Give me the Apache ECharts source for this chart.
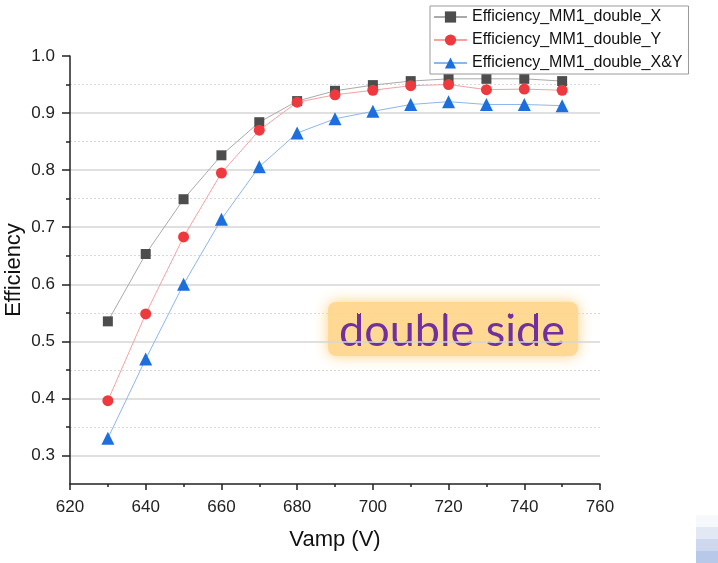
<!DOCTYPE html>
<html>
<head>
<meta charset="utf-8">
<script src="https://cdn.jsdelivr.net/npm/echarts@6/dist/echarts.min.js"></script>
<style>
  html, body { margin: 0; padding: 0; background: #ffffff; }
  #chart { width: 718px; height: 563px; }
</style>
</head>
<body>
<div id="chart"></div>
<script>
// Amplification voltage (V)
const vamp = [630, 640, 650, 660, 670, 680, 690, 700, 710, 720, 730, 740, 750];

// Detection efficiency per readout configuration
const effX  = [0.535, 0.653, 0.749, 0.826, 0.884, 0.921, 0.939, 0.949, 0.956, 0.960, 0.960, 0.960, 0.956];
const effY  = [0.396, 0.548, 0.683, 0.795, 0.870, 0.919, 0.932, 0.940, 0.948, 0.950, 0.941, 0.942, 0.940];
const effXY = [0.330, 0.469, 0.600, 0.714, 0.806, 0.865, 0.890, 0.903, 0.915, 0.920, 0.915, 0.915, 0.913];

const seriesNames = ['Efficiency_MM1_double_X', 'Efficiency_MM1_double_Y', 'Efficiency_MM1_double_X&Y'];

// Axis ticks
const yMajorTicks = [0.3, 0.4, 0.5, 0.6, 0.7, 0.8, 0.9, 1.0];
const yMinorTicks = [0.35, 0.45, 0.55, 0.65, 0.75, 0.85, 0.95];

const annotation = 'double side';

const pair = (xs, ys) => xs.map((x, i) => [x, ys[i]]);
const FONT = '"Liberation Sans", Arial, sans-serif';

const chart = echarts.init(document.getElementById('chart'), null, { renderer: 'canvas' });

const majorGridColors = yMajorTicks.map(v => (v >= 1.0 ? 'rgba(0,0,0,0)' : '#d6d6d6'));
const minorGridColors = yMinorTicks.map(() => '#d9d9d9');

chart.setOption({
  backgroundColor: '#ffffff',
  animation: false,
  grid: { left: 70, right: 118, top: 56, bottom: 79, outerBoundsMode: 'none', containLabel: false },
  legend: {
    orient: 'vertical',
    left: 430,
    top: 6,
    padding: [3, 6, 3, 3],
    itemGap: 7,
    itemWidth: 33,
    itemHeight: 14,
    borderColor: '#999999',
    borderWidth: 1,
    backgroundColor: '#ffffff',
    textStyle: { fontFamily: FONT, fontSize: 16, color: '#111111' },
    data: seriesNames
  },
  xAxis: {
    type: 'value',
    min: 620,
    max: 760,
    interval: 20,
    name: 'Vamp (V)',
    nameLocation: 'middle',
    nameGap: 45,
    nameTextStyle: { fontFamily: FONT, fontSize: 22, color: '#111111' },
    axisLine: { show: true, lineStyle: { color: '#222222', width: 1.5 } },
    axisTick: { show: true, inside: false, length: 6, lineStyle: { color: '#222222', width: 1.5 } },
    minorTick: { show: true, splitNumber: 2, length: 3, lineStyle: { color: '#222222', width: 1.5 } },
    axisLabel: { fontFamily: FONT, fontSize: 17, color: '#222222', margin: 15 },
    splitLine: { show: false }
  },
  yAxis: [
    {
      type: 'value',
      min: 0.25,
      max: 1.0,
      name: 'Efficiency',
      nameLocation: 'middle',
      nameGap: 45,
      nameMoveOverlap: false,
      nameTextStyle: { fontFamily: FONT, fontSize: 22, color: '#111111' },
      axisLine: { show: true, lineStyle: { color: '#222222', width: 1.5 } },
      axisTick: { show: true, inside: false, length: 8, customValues: yMajorTicks, lineStyle: { color: '#222222', width: 1.5 } },
      axisLabel: {
        fontFamily: FONT, fontSize: 17, color: '#222222', margin: 15,
        customValues: yMajorTicks,
        formatter: v => v.toFixed(1)
      },
      splitLine: { show: true, lineStyle: { color: majorGridColors, width: 1.5, type: 'solid' } }
    },
    {
      type: 'value',
      min: 0.25,
      max: 1.0,
      position: 'left',
      offset: 0,
      axisLine: { show: false },
      axisTick: { show: true, inside: false, length: 4, customValues: yMinorTicks, lineStyle: { color: '#222222', width: 1.5 } },
      axisLabel: { show: false, customValues: yMinorTicks },
      splitLine: { show: true, lineStyle: { color: minorGridColors, width: 1, type: [2, 2] } }
    }
  ],
  series: [
    {
      name: seriesNames[0],
      type: 'line',
      yAxisIndex: 0,
      data: pair(vamp, effX),
      symbol: 'rect',
      symbolSize: 10,
      itemStyle: { color: '#4d4d4d' },
      lineStyle: { color: '#aaaaaa', width: 1 },
      z: 3
    },
    {
      name: seriesNames[1],
      type: 'line',
      yAxisIndex: 0,
      data: pair(vamp, effY),
      symbol: 'circle',
      symbolSize: 11,
      itemStyle: { color: '#ee3a3e' },
      lineStyle: { color: '#f6a2a2', width: 1 },
      z: 4
    },
    {
      name: seriesNames[2],
      type: 'line',
      yAxisIndex: 0,
      data: pair(vamp, effXY),
      symbol: 'triangle',
      symbolSize: 13,
      itemStyle: { color: '#1c6fdd' },
      lineStyle: { color: '#8db6ee', width: 1 },
      z: 5
    }
  ],
  graphic: [
    {
      type: 'group',
      left: 328,
      top: 302,
      z: 10,
      children: [
        {
          type: 'rect',
          shape: { x: 5, y: 5, width: 250, height: 54, r: 8 },
          style: { fill: '#ffd893', shadowBlur: 14, shadowColor: 'rgba(255, 205, 120, 0.95)' }
        },
        {
          type: 'text',
          x: 129,
          y: 34,
          style: {
            text: annotation,
            fill: '#7030a0',
            font: '45px Lato, "Open Sans", sans-serif',
            align: 'center',
            verticalAlign: 'middle'
          }
        }
      ]
    },
    { type: 'rect', left: 696, top: 515, shape: { width: 22, height: 12 }, style: { fill: '#f6f8fc' }, silent: true },
    { type: 'rect', left: 696, top: 527, shape: { width: 22, height: 12 }, style: { fill: '#e2e8f4' }, silent: true },
    { type: 'rect', left: 696, top: 539, shape: { width: 22, height: 12 }, style: { fill: '#cdd8ee' }, silent: true },
    { type: 'rect', left: 696, top: 551, shape: { width: 22, height: 12 }, style: { fill: '#b8c8e8' }, silent: true }
  ]
});
</script>
</body>
</html>
